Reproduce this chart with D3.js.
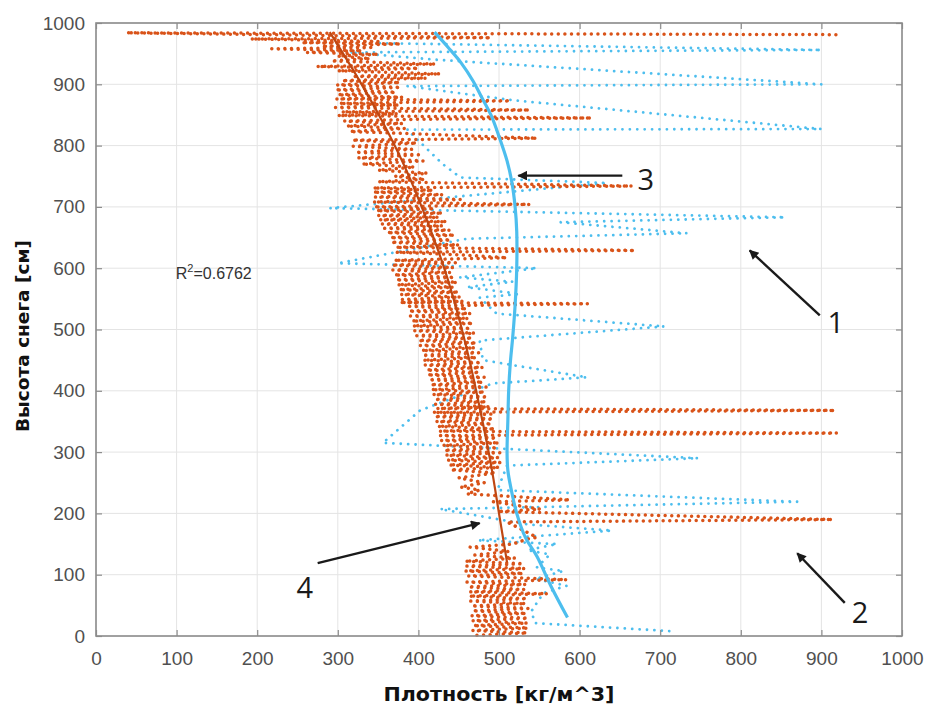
<!DOCTYPE html>
<html><head><meta charset="utf-8">
<script src="https://cdn.jsdelivr.net/npm/d3@7"></script>
<style>body{margin:0;background:#fff}</style>
</head><body>
<svg id="c" width="927" height="707"></svg>
<script>
// ---- data ----
const xTicks = [0,100,200,300,400,500,600,700,800,900,1000];
const yTicks = [0,100,200,300,400,500,600,700,800,900,1000];

// measured profile 1 (orange dotted), [density, height]
const orangeTop = [[918,981],[38,984],[490,976],[192,974],[350,970],[255,968],[378,966],[280,962],[345,960],[218,958],[330,955],[262,952],[350,949],[300,946],[340,942],[292,938],[421,933],[274,929],[400,926],[300,922],[427,917],[318,913],[410,910],[305,906],[377,903],[299,899]];
const orangeUpper = [[378,895],[297,891],[372,887],[300,883],[380,879],[298,876],[514,873],[302,869],[376,866],[297,862],[538,858],[305,855],[374,852],[300,849],[615,845],[398,843],[308,840],[380,836],[311,832],[383,828],[315,823],[547,812],[318,809],[398,804],[319,799],[392,794],[322,789],[400,785],[325,780],[406,775],[330,770],[395,765],[350,760],[411,755],[371,750],[408,745],[350,741],[665,734],[344,731],[418,727],[344,724],[430,720],[346,716],[452,712],[344,708],[538,704],[345,700],[420,697],[348,694],[430,690],[350,686],[425,683],[352,679],[435,676],[355,672],[430,669],[358,665],[439,662],[361,658],[445,654],[365,650],[440,646],[366,642],[450,638],[372,634],[669,629],[372,626],[450,622],[510,617],[370,613]];
const orangeMiddle = [[446,609],[367,605],[443,601],[368,597],[440,593],[370,589],[445,585],[372,581],[448,577],[374,573],[443,569],[376,565],[450,561],[378,557],[452,553],[380,549],[455,546],[377,544],[610,542],[385,538],[460,534],[388,530],[465,526],[390,522],[462,518],[392,514],[468,510],[393,506],[465,502],[395,498],[470,494],[398,490],[467,486],[400,482],[472,478],[402,474],[470,470],[404,466],[475,462],[405,458],[472,454],[406,450],[478,446],[408,442],[480,438],[410,434],[476,430],[411,426],[482,422],[413,418],[480,414],[415,410],[484,406],[416,402],[482,398],[418,394],[486,390],[420,386],[484,382],[421,378],[488,374],[423,371],[917,368],[418,365],[490,362],[420,358],[493,354],[422,350],[491,346],[424,342],[495,338],[426,334],[919,331],[427,327],[497,323],[428,319],[500,315],[430,311],[498,307],[432,303],[501,299],[434,295],[499,291],[436,287],[502,283],[438,279],[500,275],[440,271],[496,266],[450,258],[482,250],[452,243],[476,238],[460,232],[588,222],[493,219],[551,207],[498,203],[914,190],[510,186],[547,161],[535,158],[517,150],[464,145],[512,138],[470,132],[520,127],[458,122]];
const orangeBottom = [[530,118],[460,114],[532,110],[458,106],[530,102],[462,98],[584,92],[460,88],[533,84],[462,80],[531,76],[464,72],[560,69],[463,65],[535,61],[465,57],[533,53],[466,49],[536,45],[467,41],[534,37],[466,33],[536,29],[467,25],[535,21],[468,17],[536,13],[467,9],[535,5],[470,1]];

// measured profile 2 (blue dotted), [density, height]
const blueProfile = [[352,967],[900,956],[315,952],[423,940],[900,900],[386,897],[517,874],[900,827],[386,826],[430,770],[452,748],[634,739],[290,698],[855,683],[576,675],[733,657],[460,648],[300,608],[547,600],[451,585],[517,578],[460,569],[526,558],[476,552],[497,526],[705,505],[476,482],[480,450],[609,422],[492,412],[402,368],[356,315],[747,290],[510,278],[498,238],[870,219],[427,207],[536,182],[640,172],[474,156],[572,150],[535,140],[563,133],[547,112],[580,106],[545,93],[584,82],[555,70],[540,40],[545,21],[712,8]];

// smoothed curve (3) and fit (4), [density, height]
const blueCurve = [[420,985],[437,960],[453,935],[468,905],[478,880],[490,850],[500,815],[510,775],[516,740],[520,700],[522,660],[522,600],[520,540],[517,487],[514,445],[512,400],[511,352],[510,300],[511,270],[515,240],[522,200],[533,160],[547,130],[565,80],[585,30]];
const orangeFit = [[290,985],[325,910],[355,840],[385,760],[410,680],[432,600],[450,520],[465,440],[478,360],[490,280],[500,200],[510,120]];

const r2Text = ["R", "2", "=0.6762"];
const r2Pos = [99, 582];
const annotations = [
  {label:"3", from:[653,751], to:[524,751], at:[682,727]},
  {label:"1", from:[898,523], to:[811,629], at:[918,494]},
  {label:"2", from:[929,54],  to:[870,135], at:[948,21]},
  {label:"4", from:[275,119], to:[476,184], at:[259,62]}
];
const xTitle = "Плотность [кг/м^3]";
const yTitle = "Высота снега [см]";

// ---- chart ----
const svg = d3.select("#c");
const L=96, R=902, T=23, B=636;
const x = d3.scaleLinear([0,1000],[L,R]);
const y = d3.scaleLinear([0,1000],[B,T]);
const font = "'Liberation Sans', Arial, sans-serif";

svg.append("rect").attr("width",927).attr("height",707).attr("fill","#fff");

// grid
const g = svg.append("g");
g.selectAll(".gx").data(xTicks).join("line")
  .attr("x1",d=>x(d)).attr("x2",d=>x(d)).attr("y1",T).attr("y2",B)
  .attr("stroke","#e4e4e4").attr("stroke-width",1);
g.selectAll(".gy").data(yTicks).join("line")
  .attr("y1",d=>y(d)).attr("y2",d=>y(d)).attr("x1",L).attr("x2",R)
  .attr("stroke","#e4e4e4").attr("stroke-width",1);

const line = d3.line().x(d=>x(d[0])).y(d=>y(d[1]));
const plot = svg.append("g");

plot.append("path").datum(blueProfile).attr("d",line)
  .attr("fill","none").attr("stroke","#4DBEEE").attr("stroke-width",2.8)
  .attr("stroke-linecap","round").attr("stroke-dasharray","0.01,7.4");

const orangeProfile = orangeTop.concat(orangeUpper, orangeMiddle, orangeBottom);
plot.append("path").datum(orangeProfile).attr("d",line)
  .attr("fill","none").attr("stroke","#D95319").attr("stroke-width",3.5)
  .attr("stroke-linecap","round").attr("stroke-dasharray","0.01,6.6");

plot.append("path").datum(orangeFit).attr("d",d3.line().x(d=>x(d[0])).y(d=>y(d[1])).curve(d3.curveCatmullRom))
  .attr("fill","none").attr("stroke","#BF4712").attr("stroke-width",2.2);

plot.append("path").datum(blueCurve).attr("d",d3.line().x(d=>x(d[0])).y(d=>y(d[1])).curve(d3.curveCatmullRom))
  .attr("fill","none").attr("stroke","#4DBEEE").attr("stroke-width",3.2);

// axes
const axColor = "#8c8c8c";
const fmt = d3.format("d");
function styleAxis(sel){
  sel.select(".domain").remove();
  sel.selectAll(".tick line").attr("stroke",axColor).attr("stroke-width",1.2);
  sel.selectAll(".tick text").attr("fill","#505050").style("font-family",font).style("font-size","19px");
}
svg.append("g").attr("transform",`translate(0,${B})`)
  .call(d3.axisBottom(x).tickValues(xTicks).tickFormat(fmt).tickSize(-6).tickPadding(16))
  .call(styleAxis);
svg.append("g").attr("transform",`translate(${L},0)`)
  .call(d3.axisLeft(y).tickValues(yTicks).tickFormat(fmt).tickSize(-6).tickPadding(11))
  .call(styleAxis);
svg.append("g").attr("transform",`translate(0,${T})`)
  .call(d3.axisTop(x).tickValues(xTicks).tickSize(-6).tickFormat(""))
  .call(styleAxis);
svg.append("g").attr("transform",`translate(${R},0)`)
  .call(d3.axisRight(y).tickValues(yTicks).tickSize(-6).tickFormat(""))
  .call(styleAxis);
svg.append("rect").attr("x",L).attr("y",T).attr("width",R-L).attr("height",B-T)
  .attr("fill","none").attr("stroke",axColor).attr("stroke-width",1.6);

// titles
svg.append("text").attr("x",(L+R)/2).attr("y",701).attr("text-anchor","middle")
  .style("font-family","'DejaVu Sans', sans-serif").style("font-weight","bold").style("font-size","19px")
  .attr("textLength",231).attr("lengthAdjust","spacingAndGlyphs")
  .attr("fill","#111").text(xTitle);
svg.append("text").attr("transform",`translate(29,${336}) rotate(-90)`).attr("text-anchor","middle")
  .style("font-family","'DejaVu Sans', sans-serif").style("font-weight","bold").style("font-size","18px")
  .attr("textLength",192).attr("lengthAdjust","spacingAndGlyphs")
  .attr("fill","#111").text(yTitle);

// R^2
const rt = svg.append("text").attr("x",x(r2Pos[0])).attr("y",y(r2Pos[1]))
  .style("font-family",font).style("font-size","16px").attr("fill","#333");
rt.append("tspan").text(r2Text[0]);
rt.append("tspan").attr("dy",-7).style("font-size","11px").text(r2Text[1]);
rt.append("tspan").attr("dy",7).text(r2Text[2]);

// annotations
svg.append("defs").append("marker").attr("id","ah").attr("viewBox","0 0 10 10")
  .attr("refX",9).attr("refY",5).attr("markerWidth",5).attr("markerHeight",4)
  .attr("orient","auto").attr("markerUnits","strokeWidth")
  .append("path").attr("d","M0,0L10,5L0,10z").attr("fill","#1a1a1a");
const an = svg.append("g");
an.selectAll("line").data(annotations).join("line")
  .attr("x1",d=>x(d.from[0])).attr("y1",d=>y(d.from[1]))
  .attr("x2",d=>x(d.to[0])).attr("y2",d=>y(d.to[1]))
  .attr("stroke","#1a1a1a").attr("stroke-width",2.4).attr("marker-end","url(#ah)");
an.selectAll("text").data(annotations).join("text")
  .attr("x",d=>x(d.at[0])).attr("y",d=>y(d.at[1])).attr("text-anchor","middle")
  .style("font-family","'Open Sans', 'Noto Sans', sans-serif").style("font-size","29px")
  .attr("fill","#1a1a1a").text(d=>d.label);
</script>
</body></html>
